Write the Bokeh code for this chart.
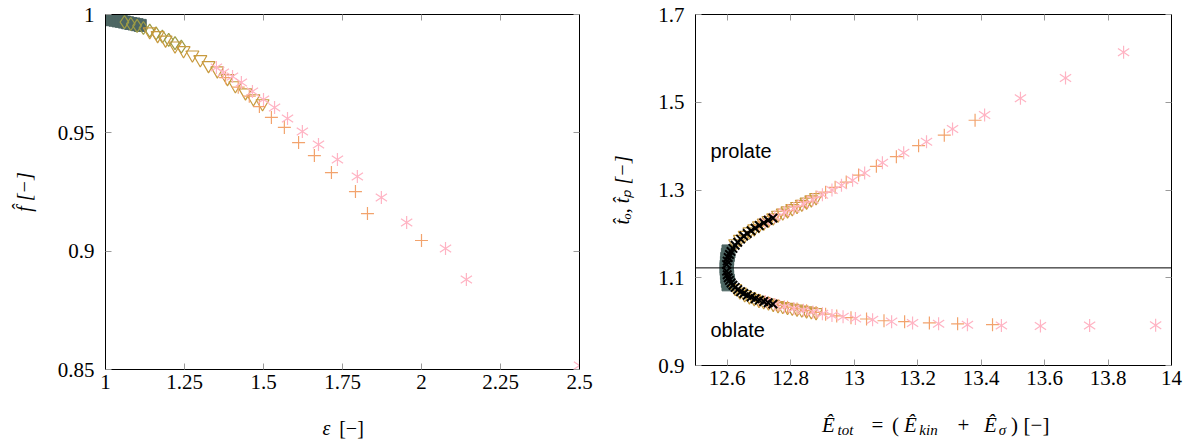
from math import pi

from bokeh.core.properties import value
from bokeh.embed import file_html
from bokeh.layouts import column, row
from bokeh.models import FixedTicker, Label, LinearAxis, Span
from bokeh.plotting import figure
from bokeh.resources import INLINE

# ---------------- left panel: f_hat versus eps ----------------
left_xticks = [1.0, 1.25, 1.5, 1.75, 2.0, 2.25, 2.5]
left_xtick_labels = ["1", "1.25", "1.5", "1.75", "2", "2.25", "2.5"]
left_yticks = [0.85, 0.9, 0.95, 1.0]
left_ytick_labels = ["0.85", "0.9", "0.95", "1"]

eps_s1 = [1.003, 1.006]
f_s1 = [0.9972, 0.9970]

eps_s2 = [1.02, 1.03, 1.04, 1.05, 1.06, 1.07, 1.08, 1.09, 1.10, 1.11]
f_s2 = [0.9978, 0.9976, 0.9973, 0.9971, 0.9968, 0.9965, 0.9962, 0.9960, 0.9957, 0.9954]

eps_s3 = [1.06, 1.08, 1.10, 1.12, 1.14, 1.16, 1.18, 1.20, 1.22, 1.24]
f_s3 = [0.9968, 0.9960, 0.9952, 0.9943, 0.9932, 0.9920, 0.9907, 0.9893, 0.9879, 0.9864]

eps_s4 = [1.14, 1.165, 1.19, 1.22, 1.247, 1.275, 1.30, 1.326, 1.354, 1.386, 1.411, 1.443, 1.468, 1.497]
f_s4 = [0.9928, 0.9912, 0.9893, 0.9868, 0.9848, 0.9830, 0.9810, 0.9785, 0.9763, 0.9730, 0.9700,
        0.9670, 0.9645, 0.9624]

eps_s5 = [1.38, 1.42, 1.455, 1.487, 1.525, 1.566, 1.611, 1.661, 1.715, 1.791, 1.829, 2.0]
f_s5 = [0.9733, 0.9693, 0.9655, 0.9611, 0.9565, 0.9523, 0.9459, 0.9404, 0.9332, 0.9252, 0.9159, 0.9045]

eps_s6 = [1.351, 1.373, 1.402, 1.430, 1.465, 1.500, 1.535, 1.576, 1.623, 1.674, 1.734, 1.797,
          1.873, 1.953, 2.076, 2.142, 2.5]
f_s6 = [0.9776, 0.9755, 0.9738, 0.9713, 0.9675, 0.9641, 0.9607, 0.9561, 0.9506, 0.9451, 0.9387,
        0.9316, 0.9227, 0.9121, 0.9011, 0.888, 0.8517]

# ---------------- right panel: t_o, t_p versus total energy ----------------
right_xticks = [12.6, 12.8, 13.0, 13.2, 13.4, 13.6, 13.8, 14.0]
right_xtick_labels = ["12.6", "12.8", "13", "13.2", "13.4", "13.6", "13.8", "14"]
right_yticks = [0.9, 1.1, 1.3, 1.5, 1.7]
right_ytick_labels = ["0.9", "1.1", "1.3", "1.5", "1.7"]
sphere_t = 1.1225

E_s2 = [12.598, 12.599, 12.600, 12.602, 12.604]
tp_s2 = [1.125, 1.134, 1.143, 1.152, 1.160]
to_s2 = [1.120, 1.111, 1.102, 1.093, 1.085]

E_blk = [12.598, 12.600, 12.603, 12.607, 12.612, 12.618, 12.625, 12.633, 12.642, 12.652, 12.663,
         12.675, 12.688, 12.701, 12.715, 12.729, 12.744]
tp_blk = [1.130, 1.138, 1.146, 1.153, 1.160, 1.167, 1.174, 1.181, 1.188, 1.195, 1.201, 1.207,
          1.213, 1.219, 1.225, 1.231, 1.236]
to_blk = [1.115, 1.107, 1.100, 1.094, 1.088, 1.083, 1.078, 1.073, 1.068, 1.064, 1.060, 1.056,
          1.052, 1.049, 1.046, 1.043, 1.040]

E_s4 = [12.625, 12.64, 12.655, 12.67, 12.685, 12.70, 12.715, 12.73, 12.745, 12.76, 12.775, 12.79,
        12.805, 12.82, 12.835, 12.85, 12.865, 12.88]
tp_s4 = [1.178, 1.188, 1.197, 1.205, 1.212, 1.219, 1.225, 1.231, 1.237, 1.243, 1.248, 1.253,
         1.258, 1.263, 1.268, 1.273, 1.278, 1.283]
to_s4 = [1.076, 1.068, 1.062, 1.057, 1.053, 1.049, 1.046, 1.043, 1.040, 1.037, 1.035, 1.033,
         1.031, 1.029, 1.027, 1.025, 1.023, 1.021]

Ep_s5 = [12.70, 12.73, 12.76, 12.79, 12.82, 12.85, 12.88, 12.91, 12.94, 12.975, 13.014, 13.070,
         13.133, 13.203, 13.284, 13.381]
tp_s5 = [1.219, 1.231, 1.243, 1.253, 1.263, 1.273, 1.284, 1.295, 1.306, 1.318, 1.334, 1.354,
         1.376, 1.401, 1.425, 1.459]
Eo_s5 = [12.70, 12.73, 12.76, 12.79, 12.82, 12.85, 12.88, 12.91, 12.945, 12.99, 13.039, 13.094,
         13.159, 13.237, 13.326, 13.436]
to_s5 = [1.049, 1.043, 1.037, 1.033, 1.029, 1.025, 1.021, 1.017, 1.013, 1.009, 1.006, 1.002,
         1.000, 0.997, 0.995, 0.993]

Ep_s6 = [12.72, 12.75, 12.78, 12.81, 12.84, 12.87, 12.90, 12.93, 12.96, 12.995, 13.033, 13.089,
         13.156, 13.228, 13.310, 13.411, 13.524, 13.666, 13.849]
tp_s6 = [1.228, 1.239, 1.249, 1.258, 1.268, 1.278, 1.289, 1.300, 1.311, 1.322, 1.339, 1.362,
         1.385, 1.410, 1.439, 1.471, 1.509, 1.555, 1.614]
Eo_s6 = [12.72, 12.75, 12.78, 12.81, 12.84, 12.87, 12.90, 12.93, 12.965, 13.004, 13.058, 13.118,
         13.184, 13.266, 13.357, 13.464, 13.587, 13.742, 13.95]
to_s6 = [1.046, 1.039, 1.034, 1.030, 1.026, 1.022, 1.018, 1.014, 1.011, 1.007, 1.004, 1.000,
         0.997, 0.995, 0.993, 0.991, 0.990, 0.991, 0.992]

# series colours (dark blue -> green -> olive -> gold -> orange -> pink)
C1, C2, C3, C4, C5, C6 = "#1f3e66", "#4d6663", "#9e9c44", "#c89a3e", "#f2a36d", "#ffb3c3"

SERIF = "Liberation Serif"
SANS = "Liberation Sans"
TICK_GREY = "#9a9a9a"
PANEL_H = 400        # height of the two plot panels; the x-axis titles sit in a strip below
STRIP_H = 441 - PANEL_H


def style_axes(p, xticks, xlabels, yticks, ylabels):
    p.xgrid.visible = False
    p.ygrid.visible = False
    p.outline_line_color = "black"
    p.outline_line_width = 1
    xax, yax = p.xaxis[0], p.yaxis[0]
    for ax, ticks, labels in ((xax, xticks, xlabels), (yax, yticks, ylabels)):
        ax.ticker = FixedTicker(ticks=ticks)
        ax.major_label_overrides = dict(zip(ticks, labels))
        ax.major_label_text_font = SERIF
        ax.major_label_text_font_size = "21px"
        ax.major_label_text_color = "black"
        ax.axis_line_color = "black"
        ax.major_tick_in = 6
        ax.major_tick_out = 0
        ax.major_tick_line_color = TICK_GREY
        ax.minor_tick_line_color = None
        ax.axis_label_text_font = SERIF
        ax.axis_label_text_font_size = "20px"
        ax.axis_label_text_color = "black"
    xax.major_label_standoff = 5
    yax.major_label_standoff = 11
    # mirrored tick marks on the top and right edges, without numbers
    for side, ticks in (("right", yticks), ("above", xticks)):
        ax = LinearAxis(ticker=FixedTicker(ticks=ticks), major_label_text_font_size="1px",
                        major_label_text_color=None, major_label_standoff=0,
                        major_tick_in=6, major_tick_out=0, major_tick_line_color=TICK_GREY,
                        minor_tick_line_color=None, axis_line_color="black")
        p.add_layout(ax, side)
    return xax, yax


def asterisk(p, x, y, color):
    # six-armed asterisk: an upright and an upside-down "y" on top of each other
    for ang in (0.0, pi):
        p.scatter(x, y, marker="y", size=13, angle=ang, line_color=color, line_width=1.2)


def triangles_down(p, x, y, color):
    p.scatter(x, y, marker="inverted_triangle", size=13, fill_color=None, line_color=color,
              line_width=1.2)


def plus(p, x, y, color):
    p.scatter(x, y, marker="cross", size=13, line_color=color, line_width=1.2)


# ---------------- left figure ----------------
p1 = figure(x_range=(1.0, 2.5), y_range=(0.85, 1.0), frame_width=474, frame_height=355,
            min_border_left=105, min_border_right=21, min_border_top=14,
            min_border_bottom=PANEL_H - 14 - 355,
            output_backend="svg", toolbar_location=None)
x1, y1 = style_axes(p1, left_xticks, left_xtick_labels, left_yticks, left_ytick_labels)
y1.axis_label = "f\u0302 [−]"
y1.axis_label_standoff = 20
y1.axis_label_text_font_style = "italic"

p1.scatter(eps_s1, f_s1, marker="triangle", size=12, fill_color=C1, line_color=C1)
p1.scatter(eps_s2, f_s2, marker="square", size=12, fill_color=C2, line_color=C2)
p1.scatter(eps_s3, f_s3, marker="diamond", size=13, fill_color=None, line_color=C3, line_width=1.2)
triangles_down(p1, eps_s4, f_s4, C4)
plus(p1, eps_s5, f_s5, C5)
asterisk(p1, eps_s6, f_s6, C6)

# ---------------- right figure ----------------
P2_TOP = 14
P2_FRAME_H = 351
p2 = figure(x_range=(12.5, 14.0), y_range=(0.9, 1.7), frame_width=476, frame_height=P2_FRAME_H,
            min_border_left=95, min_border_right=22, min_border_top=P2_TOP,
            min_border_bottom=PANEL_H - P2_TOP - P2_FRAME_H,
            output_backend="svg", toolbar_location=None)
x2, y2 = style_axes(p2, right_xticks, right_xtick_labels, right_yticks, right_ytick_labels)
y2.axis_label = "t\u0302ₒ, t\u0302ₚ [−]"
y2.axis_label_standoff = 22
y2.axis_label_text_font_style = "italic"

p2.add_layout(Span(location=sphere_t, dimension="width", line_color="black", line_width=1))

p2.scatter(E_s2, tp_s2, marker="square", size=13, fill_color=C2, line_color=C2)
p2.scatter(E_s2, to_s2, marker="square", size=13, fill_color=C2, line_color=C2)
triangles_down(p2, E_s4, tp_s4, C4)
triangles_down(p2, E_s4, to_s4, C4)
plus(p2, Ep_s5, tp_s5, C5)
plus(p2, Eo_s5, to_s5, C5)
asterisk(p2, Ep_s6, tp_s6, C6)
asterisk(p2, Eo_s6, to_s6, C6)
p2.scatter(E_blk, tp_blk, marker="x", size=12, line_color="black", line_width=2)
p2.scatter(E_blk, to_blk, marker="x", size=12, line_color="black", line_width=2)

p2_bottom = P2_TOP + P2_FRAME_H
for txt, base in (("prolate", 150), ("oblate", 329)):
    p2.add_layout(Label(x=12.5, y=0.9, x_offset=15, y_offset=p2_bottom - base, text=txt,
                        text_font=SANS, text_font_size="20px", text_align="left",
                        text_baseline="alphabetic", text_color="black"))

# ---------------- strip with the two x-axis titles ----------------
# pieces: (page x centre, page baseline y, text, font size, style)
title_pieces = [
    (326, 427, "ε", 20, "italic"), (351, 427, "[−]", 20, "normal"),
    (828, 424, "Ê", 21, "italic"), (845, 429, "tot", 15, "italic"), (877, 424, "=", 21, "normal"),
    (895, 424, "(", 21, "normal"), (910, 424, "Ê", 21, "italic"), (928, 429, "kin", 15, "italic"),
    (963, 424, "+", 21, "normal"), (990, 424, "Ê", 21, "italic"), (1002, 429, "σ", 15, "italic"),
    (1014, 424, ")", 21, "normal"), (1036, 424, "[−]", 21, "normal"),
]

strip = figure(x_range=(0, 1193), y_range=(STRIP_H, 0), frame_width=1193, frame_height=STRIP_H,
               min_border=0, x_axis_location=None, y_axis_location=None,
               output_backend="svg", toolbar_location=None)
strip.xgrid.visible = False
strip.ygrid.visible = False
strip.outline_line_color = None
groups = {}
for xp, yp, txt, size, style in title_pieces:
    groups.setdefault((size, style), []).append((xp, yp - PANEL_H, txt))
for (size, style), items in groups.items():
    strip.text(x=[i[0] for i in items], y=[i[1] for i in items], text=[i[2] for i in items],
               text_font=value(SERIF), text_font_size=value(f"{size}px"),
               text_font_style=style, text_align="center", text_baseline="alphabetic",
               text_color="black")

layout = column(row(p1, p2), strip)
open("out.html", "w").write(file_html(layout, INLINE))
